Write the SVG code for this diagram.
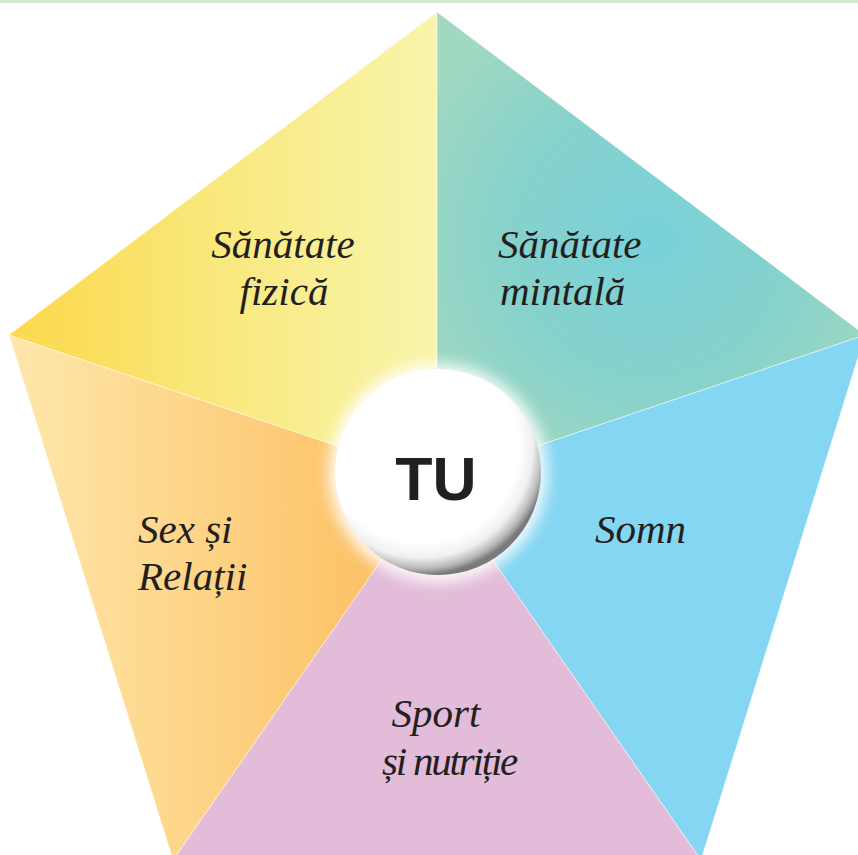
<svg xmlns="http://www.w3.org/2000/svg" width="858" height="855" viewBox="0 0 858 855">
  <defs>
    <linearGradient id="gYellow" gradientUnits="userSpaceOnUse" x1="9" y1="0" x2="437" y2="0">
      <stop offset="0" stop-color="#fcd84a"/>
      <stop offset="0.45" stop-color="#f9e779"/>
      <stop offset="1" stop-color="#f8f5ac"/>
    </linearGradient>
    <linearGradient id="gOrange" gradientUnits="userSpaceOnUse" x1="9" y1="0" x2="360" y2="0">
      <stop offset="0" stop-color="#fee7ab"/>
      <stop offset="0.5" stop-color="#fdd68a"/>
      <stop offset="1" stop-color="#fcc268"/>
    </linearGradient>
    <radialGradient id="gTeal" gradientUnits="userSpaceOnUse" cx="650" cy="240" r="260">
      <stop offset="0" stop-color="#7ad1da"/>
      <stop offset="0.55" stop-color="#86d2cc"/>
      <stop offset="1" stop-color="#a0d8c0"/>
    </radialGradient>
    <radialGradient id="gBall" cx="0.42" cy="0.38" r="0.62" fx="0.42" fy="0.36">
      <stop offset="0" stop-color="#ffffff"/>
      <stop offset="0.76" stop-color="#ffffff"/>
      <stop offset="0.87" stop-color="#f0f0f0"/>
      <stop offset="0.95" stop-color="#b8b8b8"/>
      <stop offset="1" stop-color="#7a7a7a"/>
    </radialGradient>
    <filter id="glow" x="-30%" y="-30%" width="160%" height="160%">
      <feGaussianBlur stdDeviation="7"/>
    </filter>
  </defs>
  <style>
    .sector { stroke: #ffffff; stroke-width: 0.8; stroke-opacity: 0.6; }
    .lbl { font-family: "Liberation Serif", "DejaVu Serif", serif; font-style: italic; font-size: 41px; fill: #231f20; }
    .tu { font-family: "Liberation Sans", Arial, sans-serif; font-weight: bold; font-size: 61px; fill: #231f20; }
  </style>

  <rect x="0" y="0" width="858" height="3" fill="#d0e9d0"/>

  <g id="sanatate-fizica">
    <polygon class="sector" points="437,12 437,480 9,335" fill="url(#gYellow)"/>
    <text class="lbl" x="283" y="258" text-anchor="middle">Sănătate</text>
    <text class="lbl" x="284" y="305" text-anchor="middle">fizică</text>
  </g>

  <g id="sanatate-mintala">
    <polygon class="sector" points="437,12 865,335 437,480" fill="url(#gTeal)"/>
    <text class="lbl" x="498" y="258">Sănătate</text>
    <text class="lbl" x="500" y="305">mintală</text>
  </g>

  <g id="somn">
    <polygon class="sector" points="865,335 701,860 437,480" fill="#85d6f2"/>
    <text class="lbl" x="595" y="543">Somn</text>
  </g>

  <g id="sport-nutritie">
    <polygon class="sector" points="437,480 701,860 173,860" fill="#e2bcd8"/>
    <text class="lbl" x="436" y="727" text-anchor="middle">Sport</text>
    <text class="lbl" x="382" y="775" letter-spacing="-2.2">și nutriție</text>
  </g>

  <g id="sex-relatii">
    <polygon class="sector" points="9,335 437,480 173,860" fill="url(#gOrange)"/>
    <text class="lbl" x="138" y="543">Sex și</text>
    <text class="lbl" x="138" y="590">Relații</text>
  </g>

  <g id="tu">
    <circle cx="438" cy="473" r="110" fill="#ffffff" opacity="0.85" filter="url(#glow)"/>
    <circle cx="438" cy="472" r="103" fill="url(#gBall)"/>
    <text class="tu" x="436" y="500" text-anchor="middle">TU</text>
  </g>
</svg>
